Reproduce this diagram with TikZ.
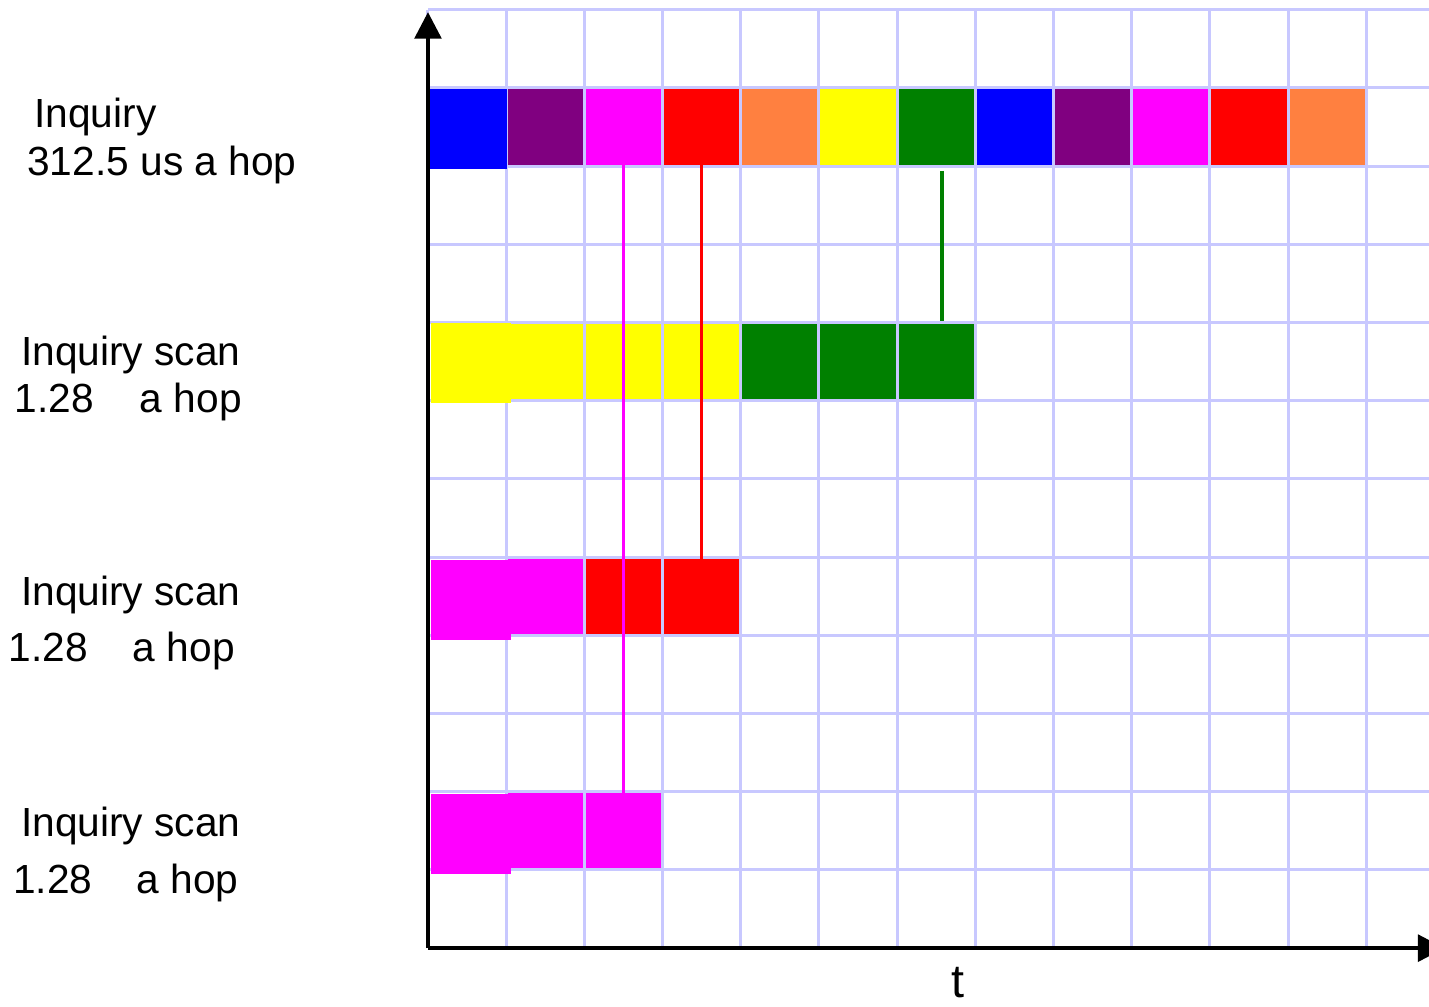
\documentclass[tikz,border=0pt]{standalone}
\usepackage{fontspec}
\setmainfont{Liberation Sans}
\usetikzlibrary{arrows.meta,calc}
\definecolor{hopblue}{RGB}{0,0,255}
\definecolor{hoppurple}{RGB}{128,0,128}
\definecolor{hopmagenta}{RGB}{255,0,255}
\definecolor{hopred}{RGB}{255,0,0}
\definecolor{hoporange}{RGB}{255,128,64}
\definecolor{hopyellow}{RGB}{255,255,0}
\definecolor{hopgreen}{RGB}{0,128,0}
\definecolor{gridlav}{RGB}{200,200,255}

\begin{document}
\begin{tikzpicture}[
  cell/.style={minimum width=0.962cm,minimum height=0.962cm,inner sep=0pt,outer sep=0pt},
  firstcell/.style={minimum width=1.02cm,minimum height=1.025cm,inner sep=0pt,outer sep=0pt},
  lbl/.style={anchor=base west,inner sep=0pt,font=\fontsize{14.8}{17}\selectfont},
  axis/.style={line width=1.45pt,-{Triangle[length=0.34cm,width=0.34cm]}}]
\useasboundingbox (-5.473,-0.743) rectangle (12.801,12.125);

% grid
\draw[gridlav,line width=1.1pt] (0,0) grid (12.801,12);

% Inquiry: one hop per slot
\node[firstcell,fill=hopblue] (inq0) at (0.505,10.48) {};
\foreach \c [count=\i from 1] in {hoppurple,hopmagenta,hopred,hoporange,hopyellow,
    hopgreen,hopblue,hoppurple,hopmagenta,hopred,hoporange}
  \node[cell,fill=\c] (inq\i) at (\i+0.5,10.5) {};

% Inquiry scan rows
\node[firstcell,fill=hopyellow] (scA0) at (0.55,7.478) {};
\foreach \c [count=\i from 1] in {hopyellow,hopyellow,hopyellow,hopgreen,hopgreen,hopgreen}
  \node[cell,fill=\c] (scA\i) at (\i+0.5,7.5) {};

\node[firstcell,fill=hopmagenta] (scB0) at (0.55,4.455) {};
\foreach \c [count=\i from 1] in {hopmagenta,hopred,hopred}
  \node[cell,fill=\c] (scB\i) at (\i+0.5,4.5) {};

\node[firstcell,fill=hopmagenta] (scC0) at (0.55,1.46) {};
\foreach \c [count=\i from 1] in {hopmagenta,hopmagenta}
  \node[cell,fill=\c] (scC\i) at (\i+0.5,1.5) {};

% matches
\draw[hopmagenta,line width=0.75pt] (inq2.south) -- (scC2.north);
\draw[hopred,line width=1.1pt] (inq3.south) -- (scB3.north);
\draw[hopgreen,line width=1.45pt] ($(inq6.south)+(0.07,-0.08)$) -- ($(scA6.north)+(0.07,0.04)$);

% axes
\coordinate (origin) at (0,0);
\coordinate (ytip) at (0,11.97);
\coordinate (xtip) at (13.0,0);
\draw[axis] (origin) -- (ytip);
\draw[axis] (origin) -- (xtip);
\node[font=\fontsize{17}{20}\selectfont,anchor=base,inner sep=0pt] (tlabel) at (6.78,-0.63) {t};

% labels
\node[lbl] (inqName) at (-5.04,10.50) {Inquiry};
\node[lbl] (inqRate) at (-5.13,9.885) {312.5 us a hop};
\node[lbl] (scAname) at (-5.21,7.452) {Inquiry scan};
\node[lbl] (scArate) at (-5.29,6.85) {1.28};
\node[lbl] (scAhop) at (-3.69,6.85) {a hop};
\node[lbl] (scBname) at (-5.21,4.379) {Inquiry scan};
\node[lbl] (scBrate) at (-5.37,3.662) {1.28};
\node[lbl] (scBhop) at (-3.78,3.662) {a hop};
\node[lbl] (scCname) at (-5.21,1.434) {Inquiry scan};
\node[lbl] (scCrate) at (-5.31,0.704) {1.28};
\node[lbl] (scChop) at (-3.73,0.704) {a hop};
\end{tikzpicture}
\end{document}
